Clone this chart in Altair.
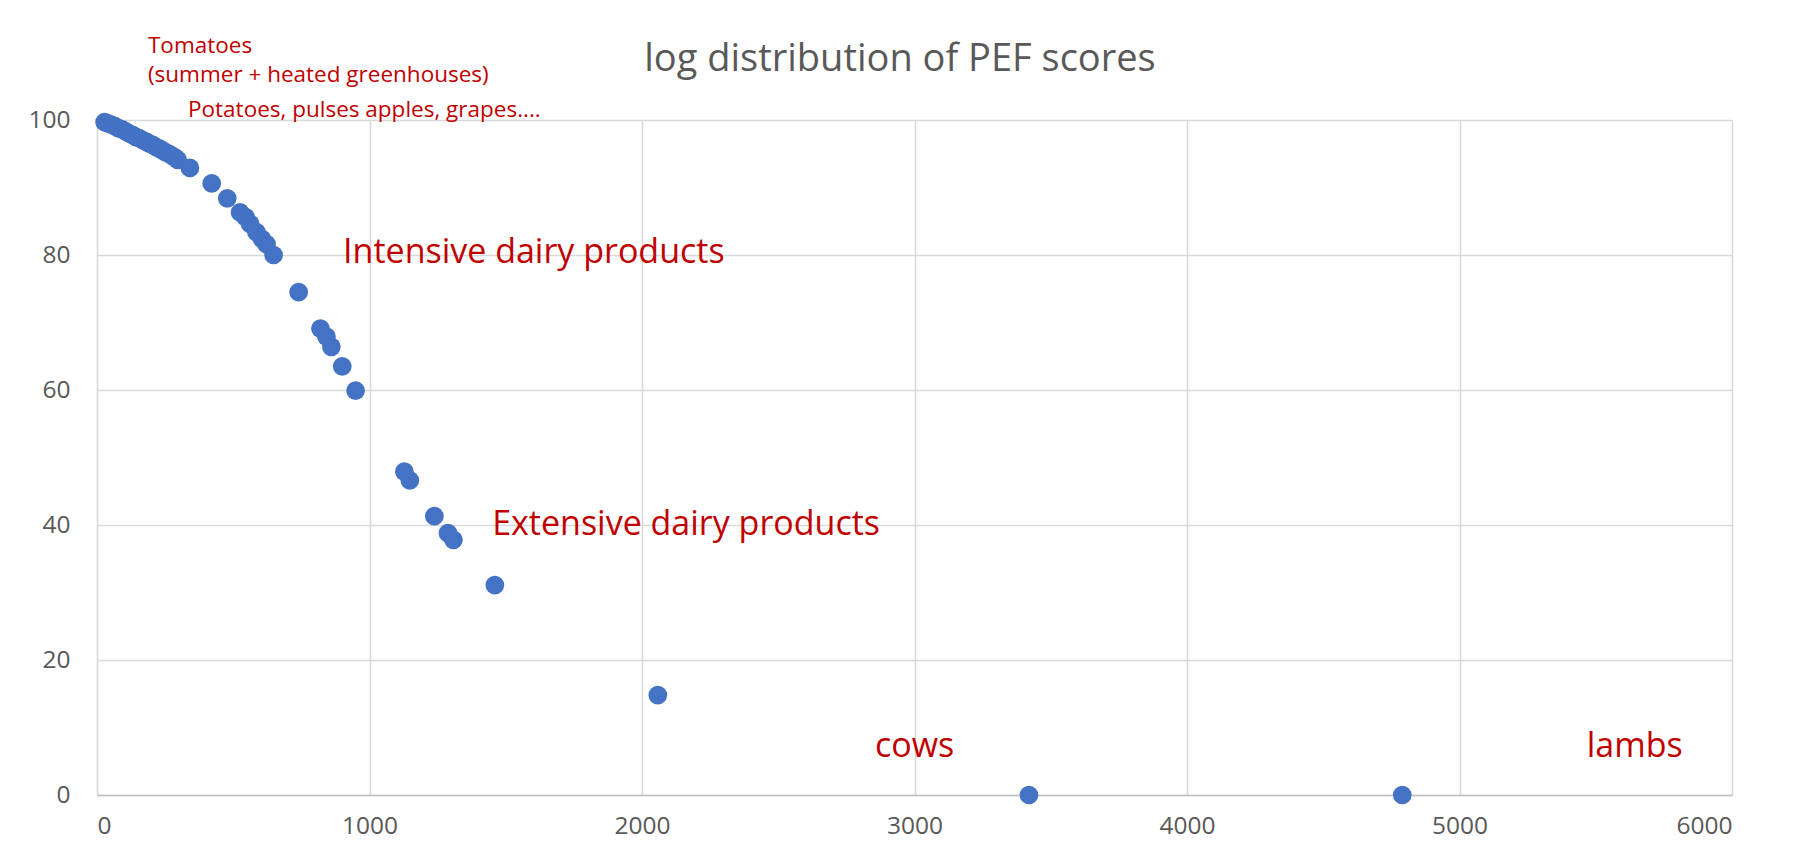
import altair as alt
import pandas as pd

# PEF score (x) vs percentile-like score (y)
pef = [28, 40, 52, 65, 78, 92, 105, 118, 130, 142, 155, 168, 180, 192, 204, 216,
       228, 240, 252, 264, 276, 288, 296, 341, 421, 478, 525, 545, 562, 585, 605,
       622, 648, 740, 820, 842, 860, 900, 949, 1128, 1148, 1238, 1288, 1308, 1460,
       2058, 3420, 4790]
score = [99.7, 99.5, 99.3, 99.1, 98.8, 98.6, 98.3, 98.0, 97.8, 97.5, 97.3, 97.0,
         96.8, 96.5, 96.3, 96.0, 95.8, 95.5, 95.2, 95.0, 94.7, 94.4, 94.1, 92.9,
         90.6, 88.4, 86.3, 85.6, 84.6, 83.4, 82.4, 81.6, 80.0, 74.5, 69.1, 67.9,
         66.4, 63.5, 59.9, 47.9, 46.6, 41.3, 38.8, 37.8, 31.1, 14.8, 0.0, 0.0]

title_text = ["log distribution of PEF scores"]

# annotations (text, anchor x, anchor baseline y) in data units
small_text = ["Tomatoes", "(summer + heated greenhouses)", "Potatoes, pulses apples, grapes...."]
small_x = [187, 187, 334]
small_y = [109.9, 105.7, 100.5]
big_text = ["Intensive dairy products", "Extensive dairy products", "cows", "lambs"]
big_x = [903, 1450, 2855, 5467]
big_y = [78.8, 38.5, 5.6, 5.6]

pts = pd.DataFrame({"pef": pef, "score": score})
small = pd.DataFrame({"t": small_text, "x": small_x, "y": small_y})
big = pd.DataFrame({"t": big_text, "x": big_x, "y": big_y})
ttl = pd.DataFrame({"t": title_text})

xs = alt.Scale(domain=[0, 6000], nice=False)
ys = alt.Scale(domain=[0, 100], nice=False)

points = alt.Chart(pts).mark_circle(size=350, color="#4472C4", opacity=1).encode(
    x=alt.X("pef:Q", scale=xs, axis=alt.Axis(
        values=[0, 1000, 2000, 3000, 4000, 5000, 6000], format="d", title=None, grid=True,
        gridColor="#d9d9d9", gridWidth=1.6, domain=True, domainColor="#bfbfbf",
        domainWidth=1.6, ticks=False, tickSize=0, labelPadding=19, labelFontSize=24.5,
        labelColor="#595959", labelFont="Open Sans")),
    y=alt.Y("score:Q", scale=ys, axis=alt.Axis(
        values=[0, 20, 40, 60, 80, 100], format="d", title=None, grid=True,
        gridColor="#d9d9d9", gridWidth=1.6, domain=False, ticks=False, tickSize=0,
        labelPadding=27, labelFontSize=24.5, labelColor="#595959", labelFont="Open Sans")),
)

small_lbl = alt.Chart(small).mark_text(
    align="left", baseline="alphabetic", font="Open Sans", fontSize=22.5, color="#C00000"
).encode(x=alt.X("x:Q", scale=xs), y=alt.Y("y:Q", scale=ys), text="t:N")

big_lbl = alt.Chart(big).mark_text(
    align="left", baseline="alphabetic", font="Open Sans", fontSize=34, color="#C00000"
).encode(x=alt.X("x:Q", scale=xs), y=alt.Y("y:Q", scale=ys), text="t:N")

title_lbl = alt.Chart(ttl).mark_text(
    align="center", baseline="alphabetic", font="Open Sans", fontSize=38, color="#595959"
).encode(x=alt.value(803), y=alt.value(-49), text="t:N")

chart = alt.layer(points, small_lbl, big_lbl, title_lbl).properties(
    width=1635, height=675,
    autosize=alt.AutoSizeParams(type="none"),
    padding={"left": 89, "top": 112, "right": 50, "bottom": 50},
).configure_view(stroke=None).configure(background="white")

chart.save("out.html", embed_options={"renderer": "svg", "actions": False})
